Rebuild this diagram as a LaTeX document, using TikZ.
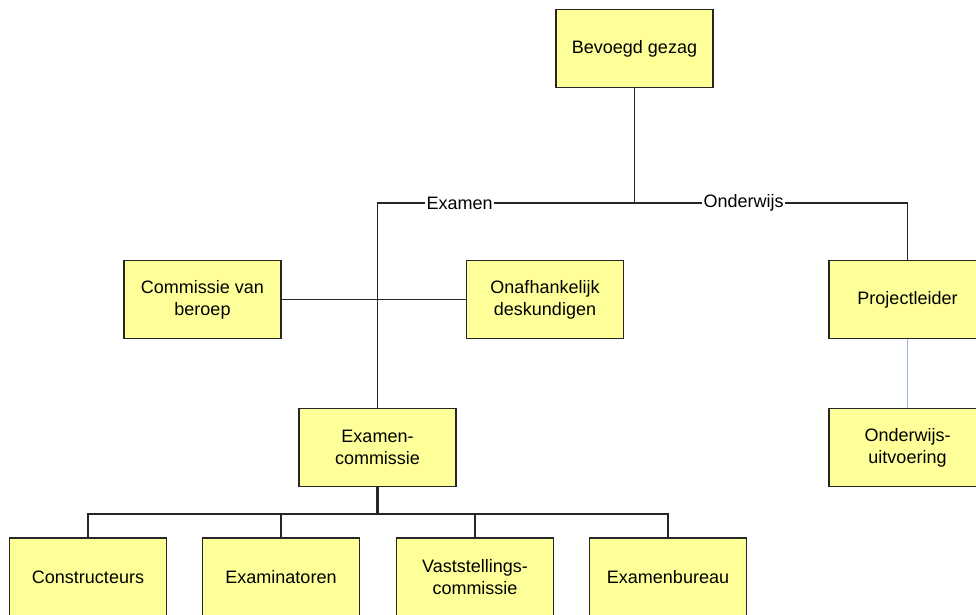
\documentclass[tikz,border=0pt]{standalone}
\usepackage{fontspec}
\setmainfont{Liberation Sans}
\definecolor{boxyellow}{RGB}{255,255,153}
\definecolor{linkblue}{RGB}{150,180,230}

\begin{document}
\begin{tikzpicture}[x=1pt, y=-1pt,
            unit/.style={draw=black!85, line width=1.4pt, fill=boxyellow, minimum width=157pt,
                minimum height=78pt, align=center, inner sep=2pt, font=\fontsize{18}{22}\selectfont},
            link/.style={draw=black!85, line width=1.5pt},
            tag/.style={fill=white, inner sep=1.5pt, font=\fontsize{18}{22}\selectfont}]
    \useasboundingbox (0,0) rectangle (976,614);
    \node[unit] (gezag) at (634.5,48.5) {Bevoegd gezag};
    \node[unit] (beroep) at (202.5,299.5) {Commissie van\\beroep};
    \node[unit] (deskundig) at (545,299.5) {Onafhankelijk\\deskundigen};
    \node[unit] (projleider) at (907.5,299.5) {Projectleider};
    \node[unit] (uitvoering) at (907.5,447.5) {Onderwijs-\\uitvoering};
    \node[unit] (examcie) at (377.5,447.5) {Examen-\\commissie};
    \node[unit] (constr) at (88,577) {Constructeurs};
    \node[unit] (examin) at (281,577) {Examinatoren};
    \node[unit] (vaststel) at (475,577) {Vaststellings-\\commissie};
    \node[unit] (bureau) at (668,577) {Examenbureau};
    \coordinate (split) at (634.5,203);
    \coordinate (bus) at (377.5,514);
    \draw[link] (gezag) -- (split);
    \draw[link] (split) -| node[pos=.34, tag] {Examen} (examcie);
    \draw[link] (split) -| node[pos=.2, tag] {Onderwijs} (projleider);
    \draw[link] (beroep) -- (deskundig);
    \draw[link, line width=2.2pt] (examcie) -- (bus);
    \foreach \n in {constr,examin,vaststel,bureau}
        \draw[link] (bus) -| (\n);
    \draw[linkblue, line width=1.8pt] (projleider) -- (uitvoering);
\end{tikzpicture}
\end{document}
